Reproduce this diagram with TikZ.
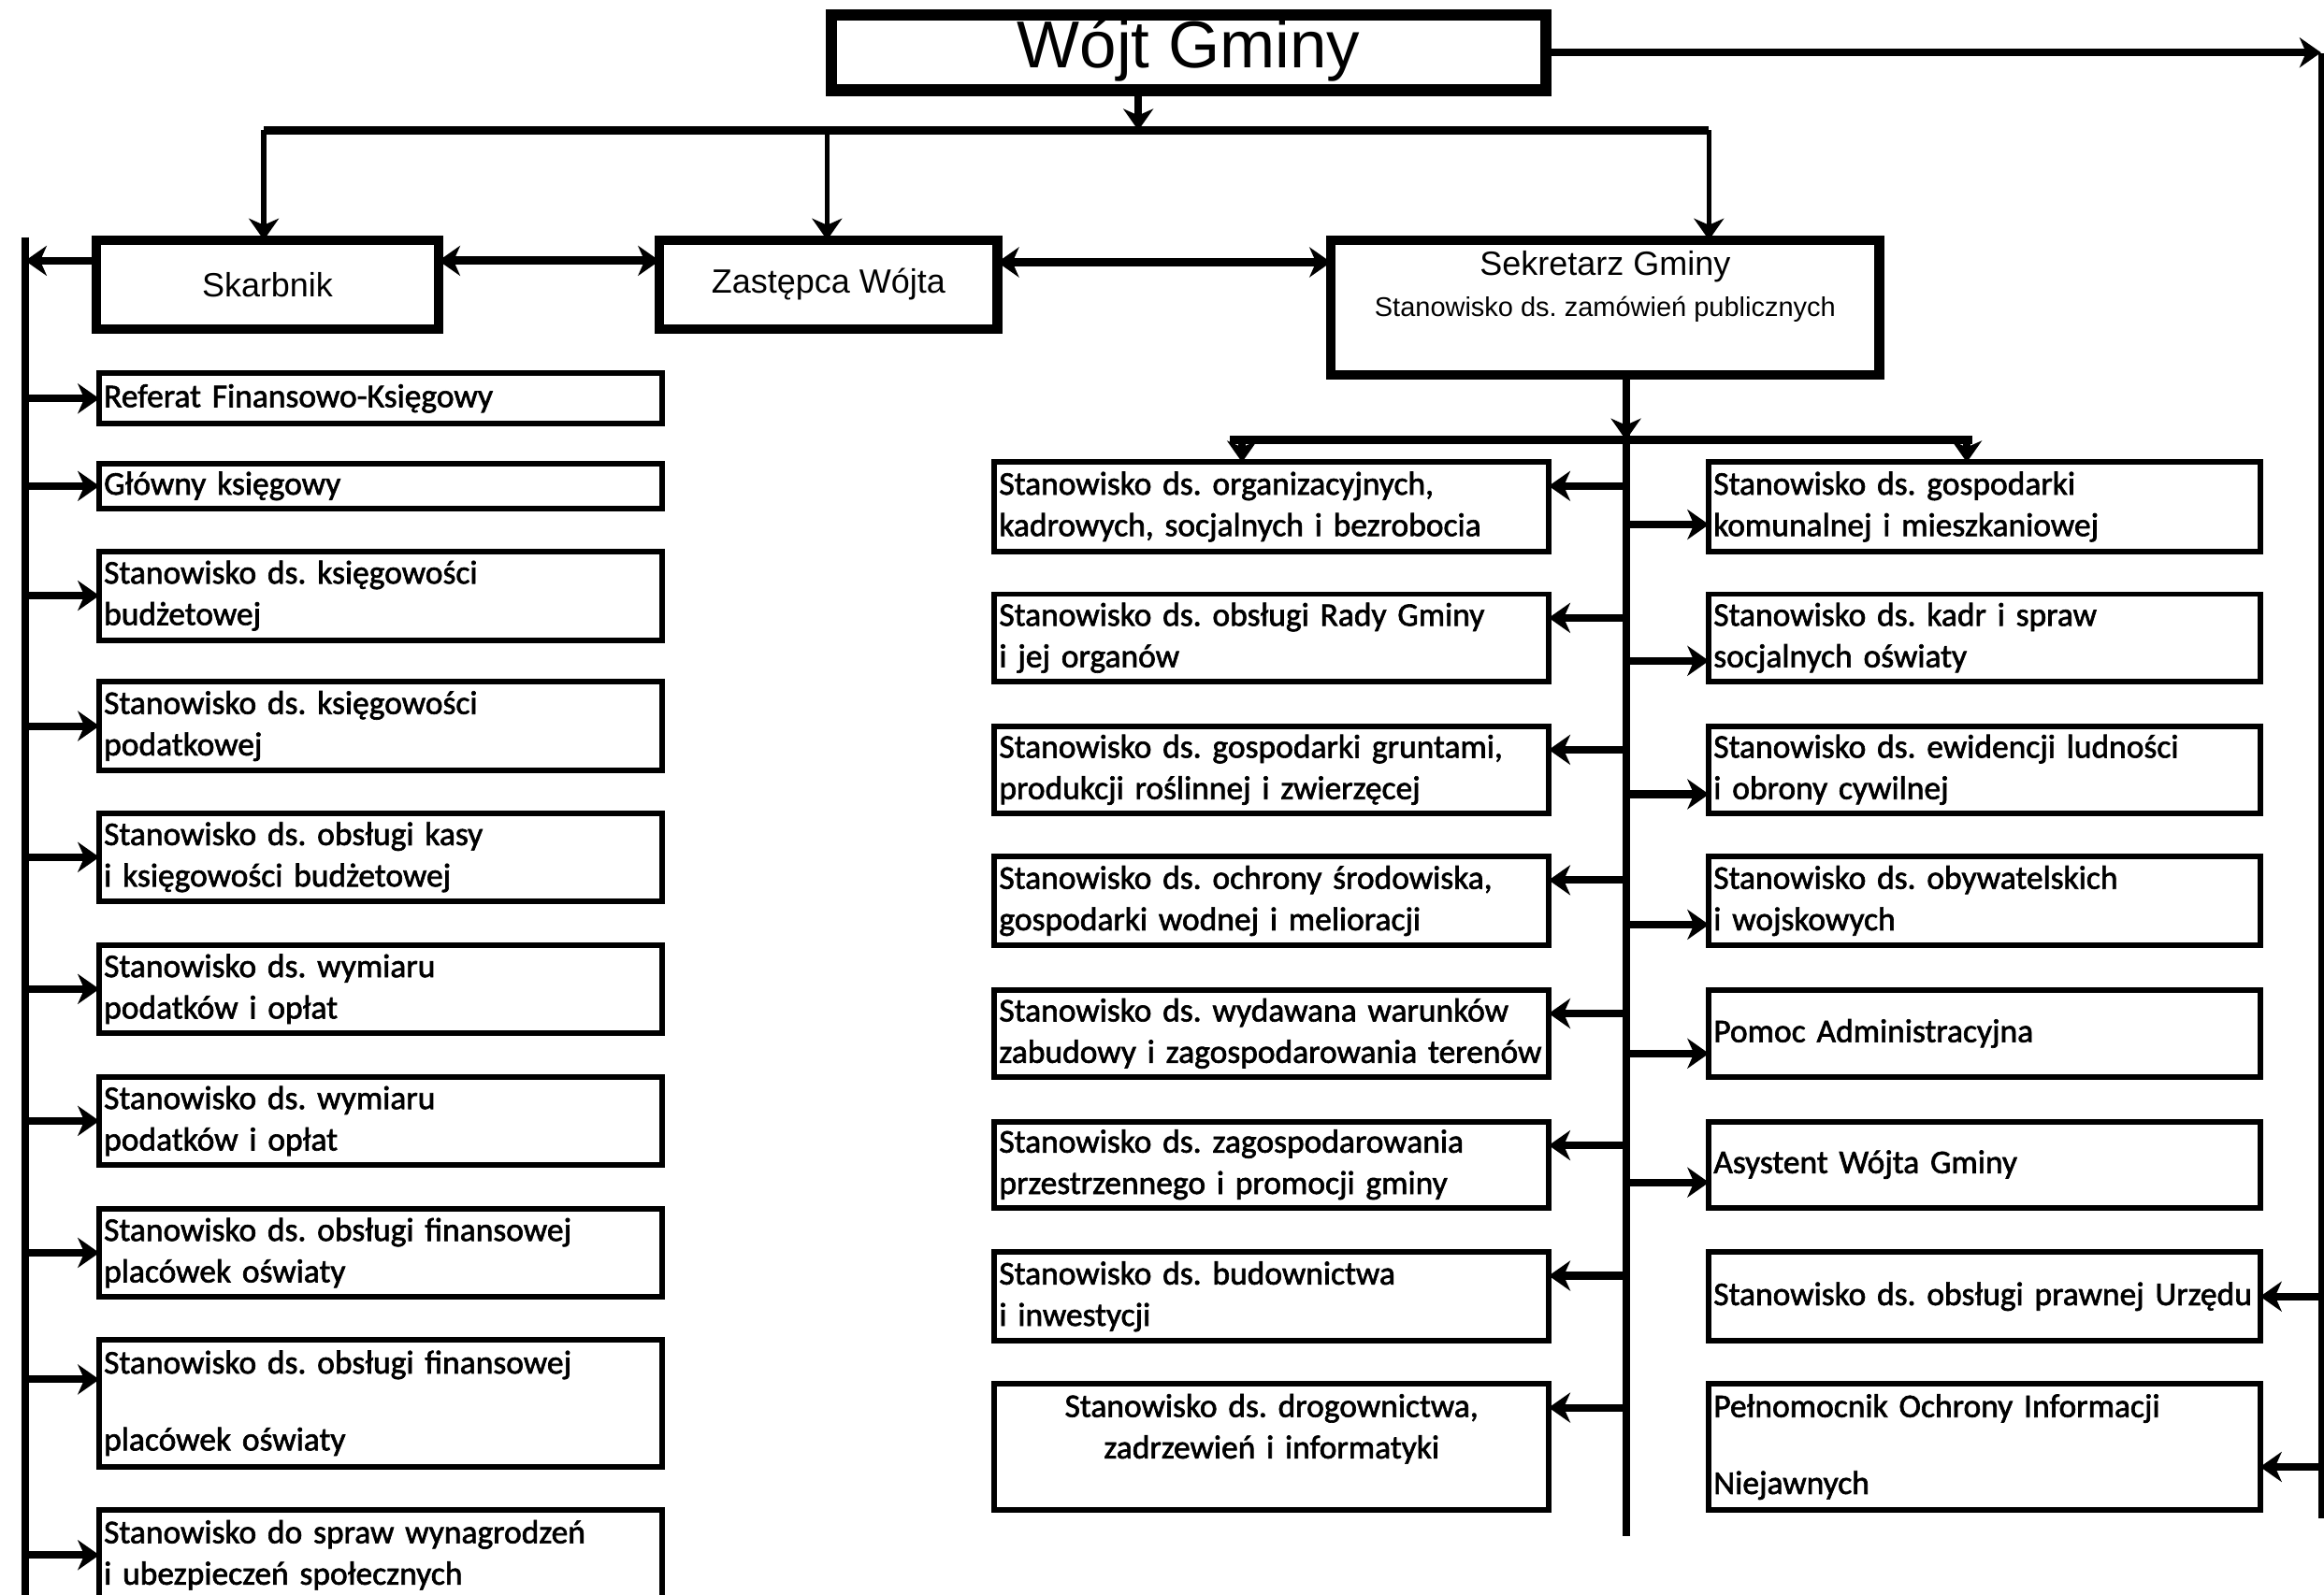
\documentclass[tikz,border=0pt]{standalone}
\usepackage{fontspec}
\setmainfont{Liberation Sans}
\newfontfamily\calfont{Carlito}[FakeBold=1.8]
\usetikzlibrary{arrows.meta,calc}
\begin{document}
\begin{tikzpicture}[x=0.01585cm,y=-0.01585cm,
  tip/.tip={Stealth[length=0.23cm,width=0.32cm,inset=0.07cm]},
  conn/.style={line width=2.3pt,-tip},
  dconn/.style={line width=2.6pt,tip-tip},
  trunk/.style={line width=2.3pt},
  topbox/.style={draw,line width=2.9pt,anchor=north west,inner sep=0pt,outer sep=0pt,align=center,font=\fontsize{10.24}{13}\selectfont\frenchspacing},
  lbox/.style={draw,line width=1.7pt,anchor=north west,inner xsep=0.05cm,inner ysep=0pt,outer sep=0pt,minimum width=6.023cm,text width=5.923cm,align=left,font=\calfont\fontsize{10.1}{12.6}\selectfont\frenchspacing},
  cbox/.style={lbox,minimum width=5.928cm,text width=5.828cm},
  rbox/.style={lbox,minimum width=5.896cm,text width=5.796cm},
  tight/.style={font=\calfont\fontsize{10.1}{11.7}\selectfont\frenchspacing},
]
\useasboundingbox (0,0) rectangle (1568,1076.3);
\clip (0,0) rectangle (1568,1076.3);
\fill[white] (0,0) rectangle (1568,1076.3);

% top level
\node[topbox,line width=3.6pt,minimum width=7.64cm,minimum height=0.808cm,font=\fontsize{20.2}{24}\selectfont] (wojt) at (561,10) {\raisebox{0.09cm}[0.6cm][0.1cm]{Wójt Gminy}};
\node[topbox,minimum width=3.661cm,minimum height=0.951cm] (sk) at (65,162) {Skarbnik};
\node[topbox,minimum width=3.614cm,minimum height=0.951cm] (zw) at (445,162) {Zastępca Wójta};
\node[topbox,minimum width=5.865cm,minimum height=1.442cm] (sek) at (898,162) {};
\node[inner sep=0pt,font=\fontsize{10.24}{12}\selectfont] (sekt1) at (1083,180) {Sekretarz Gminy};
\node[inner sep=0pt,font=\fontsize{8.25}{10}\selectfont\frenchspacing] (sekt2) at (1083,209) {Stanowisko ds. zamówień publicznych};

% left column
\node[lbox,minimum height=0.539cm] (l1) at (67,252) {Referat Finansowo-Księgowy};
\node[lbox,minimum height=0.476cm] (l2) at (67,313) {Główny księgowy};
\node[lbox,minimum height=0.951cm] (l3) at (67,372) {Stanowisko ds. księgowości\\budżetowej};
\node[lbox,minimum height=0.951cm] (l4) at (67,460) {Stanowisko ds. księgowości\\podatkowej};
\node[lbox,minimum height=0.935cm] (l5) at (67,549) {Stanowisko ds. obsługi kasy\\i księgowości budżetowej};
\node[lbox,minimum height=0.935cm] (l6) at (67,638) {Stanowisko ds. wymiaru\\podatków i opłat};
\node[lbox,minimum height=0.935cm] (l7) at (67,727) {Stanowisko ds. wymiaru\\podatków i opłat};
\node[lbox,minimum height=0.935cm] (l8) at (67,816) {Stanowisko ds. obsługi finansowej\\placówek oświaty};
\node[lbox,tight,minimum height=1.363cm] (l9) at (67,904) {Stanowisko ds. obsługi finansowej\\\mbox{}\\placówek oświaty};
\node[lbox,minimum height=0.967cm] (l10) at (67,1019) {Stanowisko do spraw wynagrodzeń\\i ubezpieczeń społecznych};

% centre column
\node[cbox,minimum height=0.951cm] (c1) at (671,312) {Stanowisko ds. organizacyjnych,\\kadrowych, socjalnych i bezrobocia};
\node[cbox,minimum height=0.935cm] (c2) at (671,401) {Stanowisko ds. obsługi Rady Gminy\\i jej organów};
\node[cbox,minimum height=0.935cm] (c3) at (671,490) {Stanowisko ds. gospodarki gruntami,\\produkcji roślinnej i zwierzęcej};
\node[cbox,minimum height=0.951cm] (c4) at (671,578) {Stanowisko ds. ochrony środowiska,\\gospodarki wodnej i melioracji};
\node[cbox,minimum height=0.935cm] (c5) at (671,668) {Stanowisko ds. wydawana warunków\\zabudowy i zagospodarowania terenów};
\node[cbox,minimum height=0.919cm] (c6) at (671,757) {Stanowisko ds. zagospodarowania\\przestrzennego i promocji gminy};
\node[cbox,minimum height=0.951cm] (c7) at (671,845) {Stanowisko ds. budownictwa\\i inwestycji};
\node[cbox,align=center,minimum height=1.347cm] (c8) at (671,934) {Stanowisko ds. drogownictwa,\\zadrzewień i informatyki\\\mbox{}};

% right column
\node[rbox,minimum height=0.951cm] (r1) at (1153,312) {Stanowisko ds. gospodarki\\komunalnej i mieszkaniowej};
\node[rbox,minimum height=0.935cm] (r2) at (1153,401) {Stanowisko ds. kadr i spraw\\socjalnych oświaty};
\node[rbox,minimum height=0.935cm] (r3) at (1153,490) {Stanowisko ds. ewidencji ludności\\i obrony cywilnej};
\node[rbox,minimum height=0.951cm] (r4) at (1153,578) {Stanowisko ds. obywatelskich\\i wojskowych};
\node[rbox,minimum height=0.935cm] (r5) at (1153,668) {Pomoc Administracyjna};
\node[rbox,minimum height=0.919cm] (r6) at (1153,757) {Asystent Wójta Gminy};
\node[rbox,minimum height=0.951cm] (r7) at (1153,845) {Stanowisko ds. obsługi prawnej Urzędu};
\node[rbox,tight,minimum height=1.347cm] (r8) at (1153,934) {Pełnomocnik Ochrony Informacji\\\mbox{}\\Niejawnych};

% coordinates
\coordinate (rtop) at (1566,36);
\coordinate (rbot) at (1566,1025);
\coordinate (bar0) at (768,88);
\coordinate (barL) at (178,88);
\coordinate (barM) at (558,88);
\coordinate (barR) at (1153,88);
\coordinate (ltop) at (17,160);
\coordinate (lbot) at (17,1080);
\coordinate (ctop) at (1097,253);
\coordinate (cbot) at (1097,1037);
\coordinate (cbar) at (1097,297);
\coordinate (cbl) at (838,297);
\coordinate (cbr) at (1327,297);

% top connectors
\draw[conn] (wojt.east) -- (wojt.east -| rtop);
\draw[line width=1.5pt] (rtop) -- (rbot);
\draw[conn] (wojt.south -| bar0) -- (bar0);
\draw[line width=2.8pt] (barL) -- (barR);
\draw[conn,line width=1.6pt] (barL) -- (barL |- sk.north);
\draw[conn,line width=1.6pt] (barM) -- (barM |- zw.north);
\draw[conn,line width=1.6pt] (barR) -- (barR |- sek.north);

\coordinate (s1) at ($(sk.east)+(0,-16)$);
\coordinate (s2) at ($(sk.west)+(0,-16)$);
\coordinate (z1) at ($(zw.east)+(0,-15)$);
\draw[dconn] (s1) -- (s1 -| zw.west);
\draw[dconn] (z1) -- (z1 -| sek.west);
\draw[conn] (s2) -- (s2 -| ltop);

% left trunk
\draw[trunk] (ltop) -- (lbot);
\foreach \n in {l1,l2,l3,l4,l5,l6,l7,l8,l10}
  \draw[conn] (ltop |- \n.west) -- (\n.west);
\coordinate (l9a) at ($(l9.west)+(0,-16)$);
\draw[conn] (ltop |- l9a) -- (l9a);

% centre trunk
\draw[trunk] (ctop) -- (cbot);
\draw[conn] (ctop) -- (cbar);
\draw[line width=2.6pt] ($(cbl)+(-8,0)$) -- ($(cbr)+(4,0)$);
\draw[conn] (cbl) -- (cbl |- c1.north);
\draw[conn] (cbr) -- (cbr |- r1.north);
\foreach \n in {c1,c2,c3,c4,c5,c6,c7,c8}{
  \coordinate (\n a) at ($(\n.north east)+(0,16)$);
  \draw[conn] (ctop |- \n a) -- (\n a);
}
\foreach \n/\d in {r1/42,r2/45,r3/46,r4/46,r5/43,r6/41}{
  \coordinate (\n a) at ($(\n.north west)+(0,\d)$);
  \draw[conn] (ctop |- \n a) -- (\n a);
}
\draw[conn] (rtop |- r7.east) -- (r7.east);
\coordinate (r8a) at ($(r8.north east)+(0,56)$);
\draw[conn] (rtop |- r8a) -- (r8a);
\end{tikzpicture}
\end{document}
